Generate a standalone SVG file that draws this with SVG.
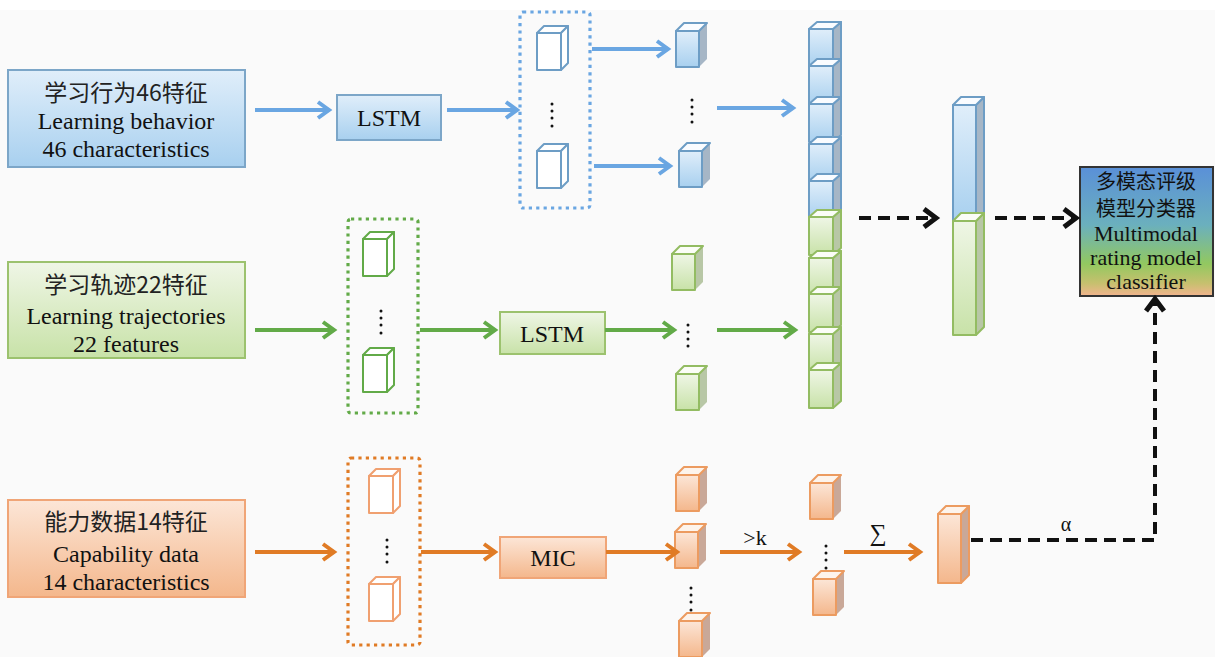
<svg xmlns="http://www.w3.org/2000/svg" xmlns:xlink="http://www.w3.org/1999/xlink" width="1215" height="657" viewBox="0 0 1215 657">
<style>
.t{font-family:"Liberation Serif","Noto Sans CJK SC",serif;fill:#111;text-anchor:middle}
.t22{font-size:24px}
.cn{font-family:"Noto Sans CJK SC","Liberation Serif",serif;font-size:23px;fill:#222;text-anchor:middle}
.blue{stroke:#6aa6e2}
.green{stroke:#62aa48}
.orange{stroke:#e07b25}
.arr{fill:none;stroke-width:4}
.dash{fill:none;stroke:#111;stroke-width:4;stroke-dasharray:12 7}
.dot{fill:none;stroke-width:3.2;stroke-dasharray:3.2 4.2}
.dots circle{fill:#111}
.cl{font-size:22px}
</style>
<defs>
<linearGradient id="gB" x1="0" y1="0" x2="0" y2="1"><stop offset="0" stop-color="#e0eefa"/><stop offset="1" stop-color="#a8d0ef"/></linearGradient>
<linearGradient id="gG" x1="0" y1="0" x2="0" y2="1"><stop offset="0" stop-color="#eff6e6"/><stop offset="1" stop-color="#c8e2a8"/></linearGradient>
<linearGradient id="gO" x1="0" y1="0" x2="0" y2="1"><stop offset="0" stop-color="#fce6d7"/><stop offset="1" stop-color="#f4b78c"/></linearGradient>
<linearGradient id="gC" x1="0" y1="0" x2="0" y2="1"><stop offset="0" stop-color="#5a90d8"/><stop offset="0.45" stop-color="#6bb0bd"/><stop offset="0.75" stop-color="#92c860"/><stop offset="0.9" stop-color="#c6c06e"/><stop offset="1" stop-color="#f2b48e"/></linearGradient>
<marker id="mB" markerUnits="userSpaceOnUse" markerWidth="20" markerHeight="20" viewBox="0 0 20 20" refX="16" refY="10" orient="auto"><path d="M5,2 L16,10 L5,18" fill="none" stroke="#6aa6e2" stroke-width="4"/></marker>
<marker id="mG" markerUnits="userSpaceOnUse" markerWidth="20" markerHeight="20" viewBox="0 0 20 20" refX="16" refY="10" orient="auto"><path d="M5,2 L16,10 L5,18" fill="none" stroke="#62aa48" stroke-width="4"/></marker>
<marker id="mO" markerUnits="userSpaceOnUse" markerWidth="20" markerHeight="20" viewBox="0 0 20 20" refX="16" refY="10" orient="auto"><path d="M5,2 L16,10 L5,18" fill="none" stroke="#e07b25" stroke-width="4"/></marker>
<marker id="mK" markerUnits="userSpaceOnUse" markerWidth="22" markerHeight="22" viewBox="0 0 22 22" refX="17" refY="11" orient="auto"><path d="M5,2 L17,11 L5,20" fill="none" stroke="#111" stroke-width="5"/></marker>
<g id="hc" fill="#fff" stroke="currentColor" stroke-width="2" stroke-linejoin="round">
<rect x="0" y="7" width="24" height="37"/>
<path d="M0,7 L7,0 L31,0 L24,7 Z"/>
<path d="M24,7 L31,0 L31,37 L24,44 Z"/>
</g>
<g id="fcB" stroke="#6d9dc5" stroke-width="2" stroke-linejoin="round">
<path d="M23,8 L31,0 L31,36 L23,44 Z" fill="#a6b6c6" stroke="none"/>
<rect x="0" y="8" width="23" height="36" fill="url(#gB)"/>
<path d="M0,8 L8,0 L31,0 L23,8 Z" fill="#fafcff"/>
</g>
<g id="fcG" stroke="#93bc62" stroke-width="2" stroke-linejoin="round">
<path d="M23,8 L31,0 L31,36 L23,44 Z" fill="#b8c7a6" stroke="none"/>
<rect x="0" y="8" width="23" height="36" fill="url(#gG)"/>
<path d="M0,8 L8,0 L31,0 L23,8 Z" fill="#fbfdf7"/>
</g>
<g id="fcO" stroke="#ec9b60" stroke-width="2" stroke-linejoin="round">
<path d="M23,8 L31,0 L31,36 L23,44 Z" fill="#c9a898" stroke="none"/>
<rect x="0" y="8" width="23" height="36" fill="url(#gO)"/>
<path d="M0,8 L8,0 L31,0 L23,8 Z" fill="#fdf4ec"/>
</g>
<g id="scB" stroke="#6d9dc5" stroke-width="2" stroke-linejoin="round">
<path d="M24,7 L32,0 L32,38 L24,45 Z" fill="#a6b6c6"/>
<rect x="0" y="7" width="24" height="38" fill="url(#gB)"/>
<path d="M0,7 L8,0 L32,0 L24,7 Z" fill="#fafcff"/>
</g>
<g id="scG" stroke="#93bc62" stroke-width="2" stroke-linejoin="round">
<path d="M24,7 L32,0 L32,38 L24,45 Z" fill="#b8c7a6"/>
<rect x="0" y="7" width="24" height="38" fill="url(#gG)"/>
<path d="M0,7 L8,0 L32,0 L24,7 Z" fill="#fbfdf7"/>
</g>
</defs>

<rect x="0" y="0" width="1215" height="657" fill="#fafafa"/>
<rect x="0" y="0" width="1215" height="10" fill="#ffffff"/>

<g id="in-behavior">
<rect x="8" y="70" width="237" height="97" fill="url(#gB)" stroke="#7ca6c8" stroke-width="2"/>
<text class="cn" x="126" y="101">学习行为46特征</text>
<text class="t t22" x="126" y="129">Learning behavior</text>
<text class="t t22" x="126" y="157">46 characteristics</text>
</g>
<g id="in-trajectory">
<rect x="8" y="262" width="237" height="96" fill="url(#gG)" stroke="#9cc26e" stroke-width="2"/>
<text class="cn" x="126" y="293">学习轨迹22特征</text>
<text class="t t22" x="126" y="324">Learning trajectories</text>
<text class="t t22" x="126" y="352">22 features</text>
</g>
<g id="in-capability">
<rect x="8" y="500" width="237" height="97" fill="url(#gO)" stroke="#f0a577" stroke-width="2"/>
<text class="cn" x="126" y="530">能力数据14特征</text>
<text class="t t22" x="126" y="562">Capability data</text>
<text class="t t22" x="126" y="590">14 characteristics</text>
</g>

<g id="lstm1">
<rect x="337" y="95" width="104" height="45" fill="url(#gB)" stroke="#7ca6c8" stroke-width="2"/>
<text class="t t22" x="389" y="126">LSTM</text>
</g>
<g id="lstm2">
<rect x="500" y="312" width="105" height="42" fill="url(#gG)" stroke="#9cc26e" stroke-width="2"/>
<text class="t t22" x="552" y="342">LSTM</text>
</g>
<g id="mic">
<rect x="500" y="537" width="106" height="41" fill="url(#gO)" stroke="#f0a577" stroke-width="2"/>
<text class="t t22" x="553" y="566">MIC</text>
</g>

<g id="seq-blue">
<rect class="dot blue" x="520" y="12" width="70" height="196" rx="3"/>
<use href="#hc" x="537" y="26" color="#6d9dc5"/>
<use href="#hc" x="537" y="144" color="#6d9dc5"/>
<g class="dots"><circle cx="552" cy="104" r="1.5"/><circle cx="552" cy="111" r="1.5"/><circle cx="552" cy="118" r="1.5"/><circle cx="552" cy="126" r="1.5"/></g>
</g>
<g id="seq-green">
<rect class="dot green" x="348" y="219" width="70" height="194" rx="3"/>
<use href="#hc" x="363" y="232" color="#62aa48"/>
<use href="#hc" x="363" y="348" color="#62aa48"/>
<g class="dots"><circle cx="381" cy="311" r="1.5"/><circle cx="381" cy="318" r="1.5"/><circle cx="381" cy="325" r="1.5"/><circle cx="381" cy="333" r="1.5"/></g>
</g>
<g id="seq-orange">
<rect class="dot orange" x="348" y="458" width="72" height="187" rx="3"/>
<use href="#hc" x="369" y="469" color="#f0a070"/>
<use href="#hc" x="369" y="577" color="#f0a070"/>
<g class="dots"><circle cx="387" cy="540" r="1.5"/><circle cx="387" cy="547" r="1.5"/><circle cx="387" cy="554" r="1.5"/><circle cx="387" cy="562" r="1.5"/></g>
</g>

<g id="out-blue">
<use href="#fcB" x="676" y="23"/>
<use href="#fcB" x="679" y="143"/>
<g class="dots"><circle cx="692" cy="100" r="1.5"/><circle cx="692" cy="107" r="1.5"/><circle cx="692" cy="114" r="1.5"/><circle cx="692" cy="122" r="1.5"/></g>
</g>
<g id="out-green">
<use href="#fcG" x="672" y="246"/>
<use href="#fcG" x="676" y="366"/>
<g class="dots"><circle cx="688" cy="325" r="1.5"/><circle cx="688" cy="332" r="1.5"/><circle cx="688" cy="339" r="1.5"/><circle cx="688" cy="346" r="1.5"/></g>
</g>
<g id="out-orange">
<use href="#fcO" x="676" y="467"/>
<use href="#fcO" x="675" y="524"/>
<use href="#fcO" x="679" y="613"/>
<g class="dots"><circle cx="691" cy="588" r="1.5"/><circle cx="691" cy="595" r="1.5"/><circle cx="691" cy="602" r="1.5"/><circle cx="691" cy="610" r="1.5"/></g>
</g>
<g id="sel-orange">
<use href="#fcO" x="810" y="475"/>
<use href="#fcO" x="813" y="571"/>
<g class="dots"><circle cx="826" cy="546" r="1.5"/><circle cx="826" cy="553" r="1.5"/><circle cx="826" cy="560" r="1.5"/><circle cx="826" cy="568" r="1.5"/></g>
</g>

<g id="stack">
<use href="#scB" x="809" y="22"/>
<use href="#scB" x="809" y="59"/>
<use href="#scB" x="809" y="97"/>
<use href="#scB" x="809" y="137"/>
<use href="#scB" x="809" y="174"/>
<use href="#scG" x="809" y="210"/>
<use href="#scG" x="809" y="251"/>
<use href="#scG" x="809" y="287"/>
<use href="#scG" x="809" y="327"/>
<use href="#scG" x="809" y="363"/>
</g>

<g id="fused">
<g stroke="#6d9dc5" stroke-width="2" stroke-linejoin="round">
<path d="M976,105 L984,97 L984,214 L976,222 Z" fill="#a6b6c6"/>
<rect x="953" y="105" width="23" height="116" fill="url(#gB)"/>
<path d="M953,105 L961,97 L984,97 L976,105 Z" fill="#fafcff"/>
</g>
<g stroke="#93bc62" stroke-width="2" stroke-linejoin="round">
<path d="M976,221 L984,213 L984,327 L976,335 Z" fill="#b8c7a6"/>
<rect x="953" y="221" width="23" height="114" fill="url(#gG)"/>
<path d="M953,221 L961,213 L984,213 L976,221 Z" fill="#fbfdf7"/>
</g>
</g>

<g id="weighted" stroke="#ec9b60" stroke-width="2" stroke-linejoin="round">
<path d="M961,514 L969,506 L969,575 L961,583 Z" fill="#c9a898"/>
<rect x="938" y="514" width="23" height="69" fill="url(#gO)"/>
<path d="M938,514 L946,506 L969,506 L961,514 Z" fill="#fdf4ec"/>
</g>

<g id="classifier">
<rect x="1080" y="167" width="133" height="129" fill="url(#gC)" stroke="#333" stroke-width="2"/>
<text class="cn" x="1146" y="189" style="font-size:20px;fill:#111">多模态评级</text>
<text class="cn" x="1146" y="216" style="font-size:20px;fill:#111">模型分类器</text>
<text class="t cl" x="1146" y="241">Multimodal</text>
<text class="t cl" x="1146" y="265">rating model</text>
<text class="t cl" x="1146" y="289">classifier</text>
</g>

<g id="connectors">
<path class="arr blue" d="M255,110 L329,110" marker-end="url(#mB)"/>
<path class="arr blue" d="M447,110 L517,110" marker-end="url(#mB)"/>
<path class="arr blue" d="M592,49 L668,49" marker-end="url(#mB)"/>
<path class="arr blue" d="M594,166 L670,166" marker-end="url(#mB)"/>
<path class="arr blue" d="M717,108 L793,108" marker-end="url(#mB)"/>

<path class="arr green" d="M255,330 L334,330" marker-end="url(#mG)"/>
<path class="arr green" d="M420,330 L495,330" marker-end="url(#mG)"/>
<path class="arr green" d="M605,330 L674,330" marker-end="url(#mG)"/>
<path class="arr green" d="M717,330 L795,330" marker-end="url(#mG)"/>

<path class="arr orange" d="M255,552 L334,552" marker-end="url(#mO)"/>
<path class="arr orange" d="M421,552 L495,552" marker-end="url(#mO)"/>
<path class="arr orange" d="M606,552 L677,552" marker-end="url(#mO)"/>
<path class="arr orange" d="M720,552 L799,552" marker-end="url(#mO)"/>
<path class="arr orange" d="M844,552 L920,552" marker-end="url(#mO)"/>

<path class="dash" d="M859,218 L936,218" marker-end="url(#mK)"/>
<path class="dash" d="M995,218 L1076,218" marker-end="url(#mK)"/>
<path class="dash" d="M971,540 L1155,540 L1155,299" marker-end="url(#mK)"/>

<text class="t" x="755" y="545" style="font-size:22px">&gt;k</text>
<text class="t" x="878" y="541" style="font-size:24px">∑</text>
<text class="t" x="1066" y="531" style="font-size:20px">α</text>
</g>
</svg>
